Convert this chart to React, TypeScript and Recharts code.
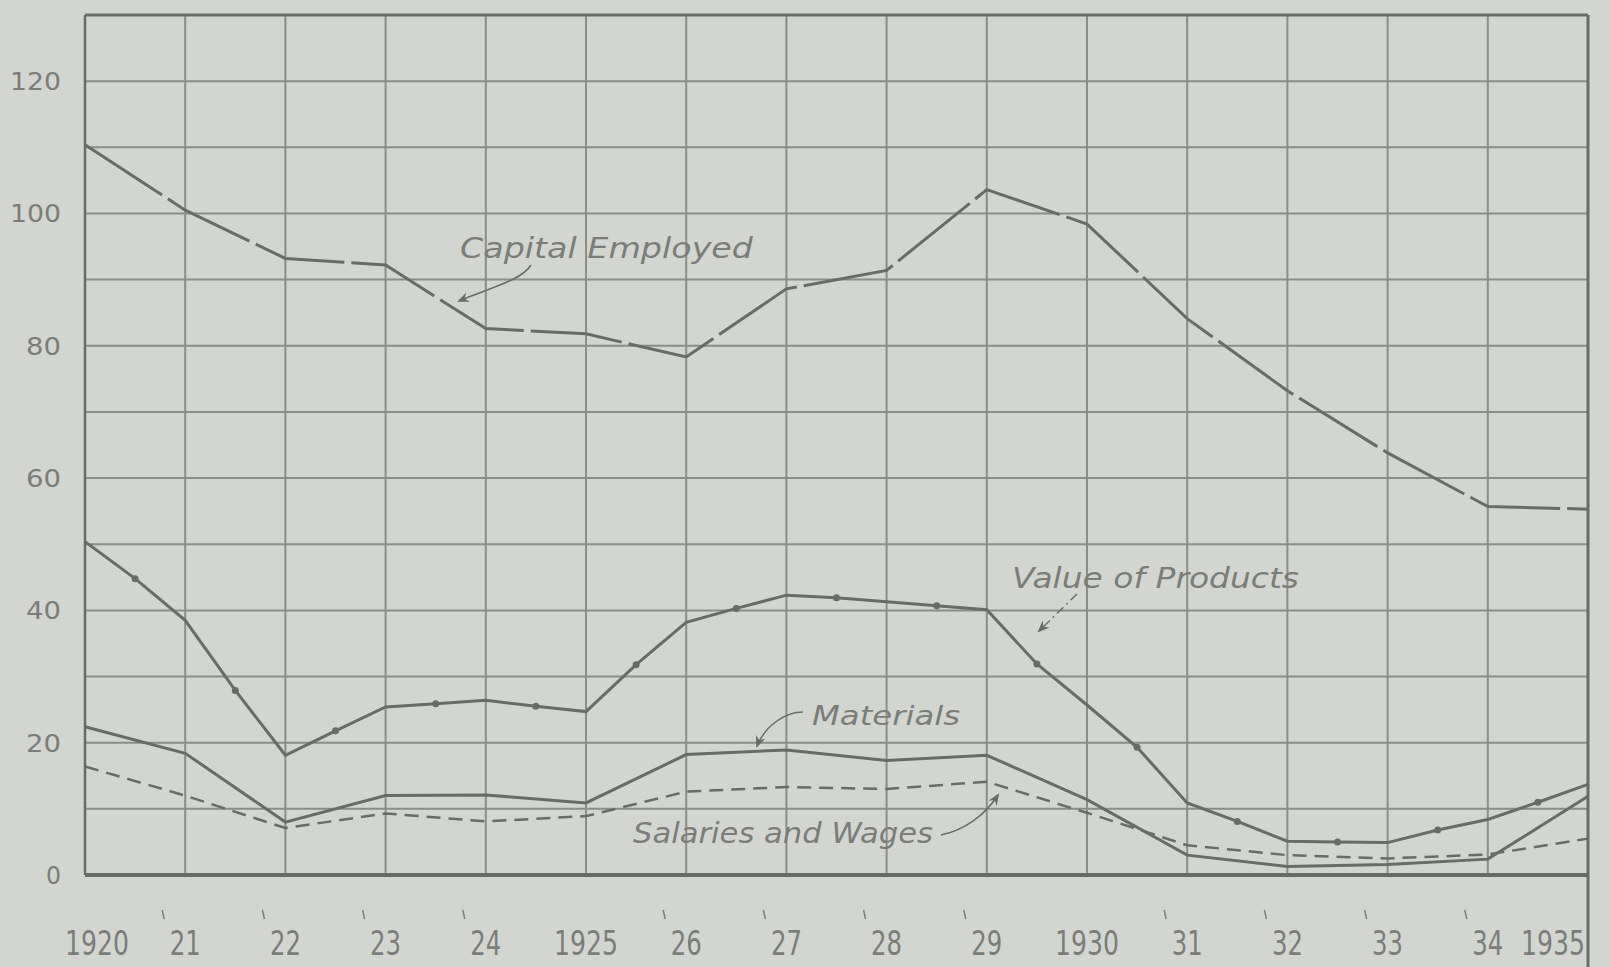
import React from 'react';
import { LineChart, Line, XAxis, YAxis, CartesianGrid } from 'recharts';

// yearly series (index 0 = 1920)
const years = [1920, 1921, 1922, 1923, 1924, 1925, 1926, 1927, 1928, 1929, 1930, 1931, 1932, 1933, 1934, 1935];
const yearLabels = ['1920', '21', '22', '23', '24', '1925', '26', '27', '28', '29', '1930', '31', '32', '33', '34', '1935'];
const capitalEmployed = [110.4, 100.5, 93.2, 92.2, 82.6, 81.8, 78.3, 88.6, 91.4, 103.6, 98.4, 84.1, 73.2, 63.8, 55.7, 55.3];
const materials = [22.4, 18.4, 8.0, 12.0, 12.1, 10.9, 18.2, 18.9, 17.3, 18.1, 11.4, 3.0, 1.3, 1.6, 2.4, 11.9];
const salariesWages = [16.4, 12.0, 7.1, 9.3, 8.1, 8.9, 12.6, 13.3, 13.0, 14.1, 9.4, 4.5, 3.0, 2.5, 3.1, 5.5];

// value of products is plotted at half-year steps
const productYears = [
  1920, 1920.5, 1921, 1921.5, 1922, 1922.5, 1923, 1923.5, 1924, 1924.5, 1925, 1925.5, 1926, 1926.5, 1927, 1927.5,
  1928, 1928.5, 1929, 1929.5, 1930, 1930.5, 1931, 1931.5, 1932, 1932.5, 1933, 1933.5, 1934, 1934.5, 1935,
];
const valueOfProducts = [
  50.4, 44.8, 38.5, 27.9, 18.1, 21.8, 25.4, 25.9, 26.4, 25.5, 24.7, 31.8, 38.2, 40.3, 42.3, 41.9,
  41.3, 40.7, 40.1, 31.9, 25.7, 19.3, 10.9, 8.1, 5.1, 5.0, 4.9, 6.8, 8.4, 11.0, 13.7,
];

const valueTicks = [0, 10, 20, 30, 40, 50, 60, 70, 80, 90, 100, 110, 120, 130];

const BG = '#d3d6d0';
const INK = '#696b66';
const GRID = '#8b8d87';
const TEXT = '#7b7d78';

const capitalData = years.map((year, i) => ({ year, value: capitalEmployed[i] }));
const materialsData = years.map((year, i) => ({ year, value: materials[i] }));
const salariesData = years.map((year, i) => ({ year, value: salariesWages[i] }));
const productsData = productYears.map((year, i) => ({ year, value: valueOfProducts[i] }));

function YearTick(props: any) {
  const { x, y, payload, index } = props;
  const label = yearLabels[index] ?? String(payload.value);
  const short = label.length === 2;
  let anchor: 'middle' | 'end' = 'middle';
  let tx = x;
  if (index === 0) tx = x + 12;
  if (index === years.length - 1) {
    anchor = 'end';
    tx = x - 3;
  }
  const len = short ? 31 : 64;
  return (
    <g>
      <text
        x={tx}
        y={y + 80}
        textAnchor={anchor}
        fontFamily="DejaVu Sans"
        fontSize={34}
        fill={TEXT}
        textLength={len}
        lengthAdjust="spacingAndGlyphs"
      >
        {label}
      </text>
      {short && <line x1={tx - 23} y1={y + 35} x2={tx - 21} y2={y + 44} stroke={TEXT} strokeWidth={1.5} />}
    </g>
  );
}

function ValueTick(props: any) {
  const { x, y, payload } = props;
  const v = payload.value;
  if (v % 20 !== 0 || v > 120) return <g />;
  const s = String(v);
  const len = s.length === 3 ? 51 : s.length === 2 ? 35 : 15;
  return (
    <text
      x={x - 24}
      y={y}
      dy={9}
      textAnchor="end"
      fontFamily="DejaVu Sans"
      fontSize={25}
      fill={TEXT}
      textLength={len}
      lengthAdjust="spacingAndGlyphs"
    >
      {s}
    </text>
  );
}

function halfYearDot(props: any) {
  const { cx, cy, index } = props;
  if (index % 2 === 0) return <g key={`d-${index}`} />;
  return <circle key={`d-${index}`} cx={cx} cy={cy} r={3.5} fill={INK} />;
}

const labelStyle = {
  fontFamily: 'DejaVu Sans',
  fontStyle: 'italic' as const,
  fill: TEXT,
};

function Annotations() {
  return (
    <svg width={1610} height={967} style={{ position: 'absolute', left: 0, top: 0, pointerEvents: 'none' }}>
      <defs>
        <marker id="head" markerWidth="12" markerHeight="10" refX="10" refY="5" orient="auto" markerUnits="userSpaceOnUse">
          <path d="M0,0 L12,5 L0,10 L4,5 Z" fill={INK} />
        </marker>
      </defs>
      {/* plot frame: top edge and right edge running down past the axis */}
      <line x1={85} y1={15} x2={1588} y2={15} stroke={INK} strokeWidth={3} />
      <line x1={1588} y1={15} x2={1588} y2={967} stroke={INK} strokeWidth={3} />
      <line x1={85} y1={15} x2={85} y2={875} stroke={INK} strokeWidth={2.5} />

      <text x={460} y={258} fontSize={28} textLength={293} lengthAdjust="spacingAndGlyphs" {...labelStyle}>
        Capital Employed
      </text>
      <path d="M531,265 C522,280 490,288 459,301" fill="none" stroke={INK} strokeWidth={1.6} markerEnd="url(#head)" />

      <text x={1012} y={588} fontSize={29} textLength={287} lengthAdjust="spacingAndGlyphs" {...labelStyle}>
        Value of Products
      </text>
      <path d="M1077,594 L1039,631" fill="none" stroke={INK} strokeWidth={1.4} strokeDasharray="9 4 2 4" markerEnd="url(#head)" />

      <text x={812} y={725} fontSize={27} textLength={148} lengthAdjust="spacingAndGlyphs" {...labelStyle}>
        Materials
      </text>
      <path d="M803,712 C785,712 765,726 757,746" fill="none" stroke={INK} strokeWidth={1.5} markerEnd="url(#head)" />

      <text x={633} y={843} fontSize={28} textLength={300} lengthAdjust="spacingAndGlyphs" {...labelStyle}>
        Salaries and Wages
      </text>
      <path d="M941,835 C965,830 985,815 998,795" fill="none" stroke={INK} strokeWidth={1.5} markerEnd="url(#head)" />
    </svg>
  );
}

export default function App() {
  return (
    <div style={{ position: 'absolute', left: 0, top: 0, width: 1610, height: 967, background: BG, overflow: 'hidden' }}>
      <LineChart width={1610} height={967} margin={{ top: 15, right: 22, bottom: 0, left: 0 }}>
        <CartesianGrid stroke={GRID} strokeWidth={2} />
        <XAxis
          type="number"
          dataKey="year"
          domain={[1920, 1935]}
          ticks={years}
          interval={0}
          height={92}
          tickSize={0}
          tickMargin={0}
          tickLine={false}
          axisLine={{ stroke: INK, strokeWidth: 4 }}
          tick={<YearTick />}
          allowDuplicatedCategory={false}
        />
        <YAxis
          type="number"
          domain={[0, 130]}
          ticks={valueTicks}
          interval={0}
          width={85}
          tickSize={0}
          tickMargin={0}
          tickLine={false}
          axisLine={false}
          tick={<ValueTick />}
        />
        <Line
          data={capitalData}
          dataKey="value"
          type="linear"
          stroke={INK}
          strokeWidth={3}
          strokeDasharray="92 7"
          dot={false}
          isAnimationActive={false}
        />
        <Line
          data={productsData}
          dataKey="value"
          type="linear"
          stroke={INK}
          strokeWidth={3}
          dot={halfYearDot}
          isAnimationActive={false}
        />
        <Line
          data={materialsData}
          dataKey="value"
          type="linear"
          stroke={INK}
          strokeWidth={3}
          dot={false}
          isAnimationActive={false}
        />
        <Line
          data={salariesData}
          dataKey="value"
          type="linear"
          stroke={INK}
          strokeWidth={2.5}
          strokeDasharray="14 8"
          dot={false}
          isAnimationActive={false}
        />
      </LineChart>
      <Annotations />
    </div>
  );
}
